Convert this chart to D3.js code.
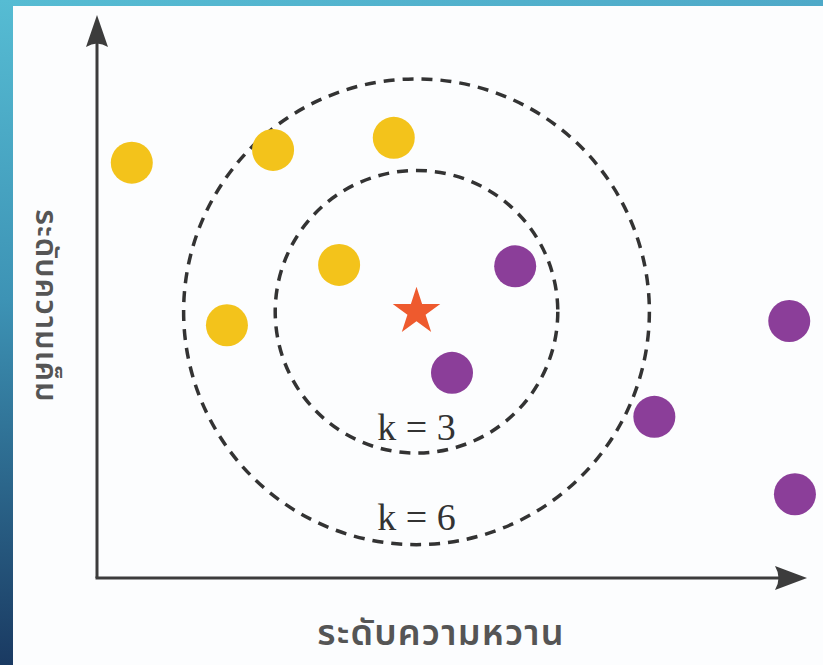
<!DOCTYPE html>
<html>
<head>
<meta charset="utf-8">
<script src="https://cdn.jsdelivr.net/npm/d3@7"></script>
<style>
  html, body { margin: 0; padding: 0; background: #fcfdfe; }
  svg { display: block; }
</style>
</head>
<body>
<svg id="chart" width="823" height="665"></svg>
<script>
// data (units: one unit = same length on both axes)
var yellowPts = [[4.9, 58.5], [24.8, 60.3], [41.8, 62.0], [34.1, 44.1], [18.3, 35.6]];
var purplePts = [[58.9, 43.9], [50.0, 28.9], [78.5, 22.7], [97.5, 36.2], [98.3, 11.8]];
var queryPt = [45.0, 37.5];
var kValues = [3, 6];
var kRadius = [19.9, 32.8];
var kLabelPos = [[45.0, 19.5], [45.0, 6.8]];
var xTitle = "ระดับความหวาน";
var yTitle = "ระดับความเค็ม";

var svg = d3.select('#chart');
var W = 823, H = 665;

// frame: blue strips on top and left
var defs = svg.append('defs');
var gl = defs.append('linearGradient')
    .attr('id', 'leftGrad')
    .attr('x1', 0).attr('y1', 0).attr('x2', 0).attr('y2', 1);
gl.append('stop').attr('offset', '0%').attr('stop-color', '#56bcd3');
gl.append('stop').attr('offset', '45%').attr('stop-color', '#3d93b5');
gl.append('stop').attr('offset', '100%').attr('stop-color', '#1a3a62');
var gt = defs.append('linearGradient')
    .attr('id', 'topGrad')
    .attr('x1', 0).attr('y1', 0).attr('x2', 1).attr('y2', 0);
gt.append('stop').attr('offset', '0%').attr('stop-color', '#56bcd3');
gt.append('stop').attr('offset', '100%').attr('stop-color', '#4ea9c8');

svg.append('rect').attr('width', W).attr('height', H).attr('fill', '#fcfdfe');
svg.append('rect').attr('x', 0).attr('y', 0).attr('width', W).attr('height', 6).attr('fill', 'url(#topGrad)');
svg.append('rect').attr('x', 0).attr('y', 0).attr('width', 13).attr('height', H).attr('fill', 'url(#leftGrad)');

// scales (7.1 px per unit on both)
var x = d3.scaleLinear().domain([0, 100]).range([97, 807]);
var y = d3.scaleLinear().domain([0, 79.3]).range([578, 15]);
var unit = x(1) - x(0);

var axisColor = '#3c3c3c';

// axes
svg.append('line')
    .attr('x1', x(0)).attr('y1', y(0))
    .attr('x2', x(0)).attr('y2', y(79.3) + 20)
    .attr('stroke', axisColor).attr('stroke-width', 3);
svg.append('line')
    .attr('x1', x(0) - 1.5).attr('y1', y(0))
    .attr('x2', x(100) - 20).attr('y2', y(0))
    .attr('stroke', axisColor).attr('stroke-width', 3);

// arrow heads
var tipY = [x(0), y(79.3)];
svg.append('path')
    .attr('d', 'M' + tipY[0] + ',' + tipY[1] +
        ' L' + (tipY[0] + 11) + ',' + (tipY[1] + 32) +
        ' Q' + tipY[0] + ',' + (tipY[1] + 25) + ' ' + (tipY[0] - 11) + ',' + (tipY[1] + 32) + ' Z')
    .attr('fill', axisColor);
var tipX = [x(100), y(0)];
svg.append('path')
    .attr('d', 'M' + tipX[0] + ',' + tipX[1] +
        ' L' + (tipX[0] - 32) + ',' + (tipX[1] - 12) +
        ' Q' + (tipX[0] - 25) + ',' + tipX[1] + ' ' + (tipX[0] - 32) + ',' + (tipX[1] + 12) + ' Z')
    .attr('fill', axisColor);

// k circles
svg.selectAll('circle.k')
    .data(kRadius)
    .enter()
    .append('circle')
    .attr('class', 'k')
    .attr('cx', x(queryPt[0]))
    .attr('cy', y(queryPt[1]))
    .attr('r', function(d){ return d * unit; })
    .attr('fill', 'none')
    .attr('stroke', '#333')
    .attr('stroke-width', 3.5)
    .attr('stroke-dasharray', '11,8');

// k labels
svg.selectAll('text.k')
    .data(kValues)
    .enter()
    .append('text')
    .attr('class', 'k')
    .attr('x', function(d, i){ return x(kLabelPos[i][0]); })
    .attr('y', function(d, i){ return y(kLabelPos[i][1]); })
    .attr('text-anchor', 'middle')
    .attr('font-family', 'Liberation Serif, DejaVu Serif, serif')
    .attr('font-size', 38)
    .attr('fill', '#333')
    .text(function(d){ return 'k = ' + d; });

// points
svg.selectAll('circle.yel')
    .data(yellowPts)
    .enter()
    .append('circle')
    .attr('class', 'yel')
    .attr('cx', function(d){ return x(d[0]); })
    .attr('cy', function(d){ return y(d[1]); })
    .attr('r', 21)
    .attr('fill', '#f3c31b');

svg.selectAll('circle.pur')
    .data(purplePts)
    .enter()
    .append('circle')
    .attr('class', 'pur')
    .attr('cx', function(d){ return x(d[0]); })
    .attr('cy', function(d){ return y(d[1]); })
    .attr('r', 21)
    .attr('fill', '#8b3e99');

// query star
svg.append('path')
    .attr('d', d3.symbol().type(d3.symbolStar).size(25 * 25 / 0.8908130915)())
    .attr('transform', 'translate(' + x(queryPt[0]) + ',' + y(queryPt[1]) + ')')
    .attr('fill', '#ee5a2e');

// axis titles
var thaiFont = 'Noto Sans Thai, Noto Sans Thai UI, Noto Sans, Loma, Garuda, sans-serif';
svg.append('text')
    .attr('x', 441)
    .attr('y', 645)
    .attr('text-anchor', 'middle')
    .attr('font-family', thaiFont)
    .attr('font-weight', 600)
    .attr('font-size', 36)
    .attr('letter-spacing', 1.2)
    .attr('fill', '#555')
    .text(xTitle);

svg.append('text')
    .attr('transform', 'translate(36,306) rotate(90)')
    .attr('text-anchor', 'middle')
    .attr('font-family', thaiFont)
    .attr('font-weight', 600)
    .attr('font-size', 31)
    .attr('letter-spacing', 1)
    .attr('fill', '#555')
    .text(yTitle);
</script>
</body>
</html>
